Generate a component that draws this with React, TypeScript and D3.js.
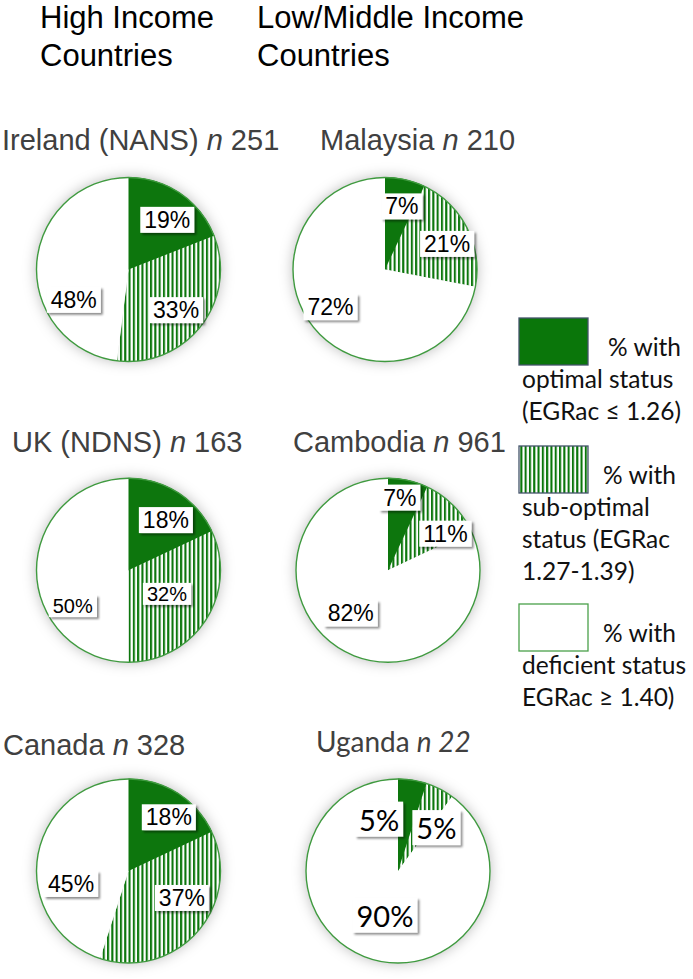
import { useEffect, useRef } from 'react';
import * as d3 from 'd3';

// Riboflavin status (EGRac) by country, % of sample in each band
const countries = ['Ireland (NANS)', 'Malaysia', 'UK (NDNS)', 'Cambodia', 'Canada', 'Uganda'];
const sampleSizes = ['251', '210', '163', '961', '328', '22'];
const optimalPct = [19, 7, 18, 7, 18, 5];
const subOptimalPct = [33, 21, 32, 11, 37, 5];
const deficientPct = [48, 72, 50, 82, 45, 90];

const groupHeadings = [
  ['High Income', 'Countries'],
  ['Low/Middle Income', 'Countries'],
];

const legendLabels = [
  ['% with', 'optimal status', '(EGRac ≤ 1.26)'],
  ['% with', 'sub-optimal', 'status (EGRac', '1.27-1.39)'],
  ['% with', 'deficient status', 'EGRac ≥ 1.40)'],
];

// where each slice label sits: [angle in degrees from 12 o'clock, fraction of radius]
const labelPlacement = [
  [[38, 0.685], [130.5, 0.68], [241, 0.68]],
  [[15, 0.71], [67.6, 0.73], [235.4, 0.72]],
  [[36.7, 0.68], [121.6, 0.49], [237.3, 0.72]],
  [[9.2, 0.8], [57.5, 0.74], [220.8, 0.62]],
  [[36.9, 0.73], [116.8, 0.65], [257.3, 0.64]],
  [[340, 0.6], [41.5, 0.63], [196.5, 0.5]],
];
const labelFontSize = [
  [23, 23, 23],
  [23, 23, 23],
  [23, 20, 20],
  [23, 23, 23],
  [23, 23, 23],
  [29, 29, 29],
];
const titlePos = [
  [2, 150],
  [320, 150],
  [12, 452],
  [293, 452],
  [3, 755],
  [316, 752],
];
const pieNudge = [0, -3, 0, 0, 0, 10];

const W = 693;
const H = 979;
const R = 92;
const GREEN = '#0a760a';
const EDGE = '#3f9a3f';
const ARIAL = 'Liberation Sans, Arial, sans-serif';
const CALIBRI = 'Lato, Open Sans, sans-serif';

export default function App() {
  const ref = useRef<SVGSVGElement>(null);

  useEffect(() => {
    const svg = d3.select(ref.current);
    svg.selectAll('*').remove();

    const defs = svg.append('defs');
    const hatch = defs
      .append('pattern')
      .attr('id', 'hatch')
      .attr('patternUnits', 'userSpaceOnUse')
      .attr('width', 4.3)
      .attr('height', 10);
    hatch.append('rect').attr('width', 4.3).attr('height', 10).attr('fill', '#fff');
    hatch.append('rect').attr('width', 2.1).attr('height', 10).attr('fill', GREEN);

    const halo = defs.append('filter').attr('id', 'halo').attr('x', '-25%').attr('y', '-25%').attr('width', '150%').attr('height', '150%');
    halo.append('feGaussianBlur').attr('in', 'SourceAlpha').attr('stdDeviation', 7).attr('result', 'b');
    halo.append('feFlood').attr('flood-color', '#000').attr('flood-opacity', 0.28);
    halo.append('feComposite').attr('in2', 'b').attr('operator', 'in').attr('result', 's');
    const hm = halo.append('feMerge');
    hm.append('feMergeNode').attr('in', 's');
    hm.append('feMergeNode').attr('in', 'SourceGraphic');

    const shadow = defs.append('filter').attr('id', 'boxShadow').attr('x', '-30%').attr('y', '-30%').attr('width', '160%').attr('height', '160%');
    shadow
      .append('feDropShadow')
      .attr('dx', 2)
      .attr('dy', 2)
      .attr('stdDeviation', 1.3)
      .attr('flood-color', '#000')
      .attr('flood-opacity', 0.45);

    // group headings
    groupHeadings.forEach((lines, i) => {
      const t = svg
        .append('text')
        .attr('x', i === 0 ? 40 : 257)
        .attr('font-family', ARIAL)
        .attr('font-size', 31)
        .attr('fill', '#000');
      lines.forEach((l, j) =>
        t.append('tspan').attr('x', i === 0 ? 40 : 257).attr('y', 28 + j * 38).text(l)
      );
    });

    const xCol = d3.scaleOrdinal<number, number>().domain([0, 1]).range([128.5, 388]);
    const yRow = d3.scaleLinear().domain([0, 2]).range([269.5, 871]);

    const pie = d3
      .pie<{ key: string; value: number }>()
      .value((d) => d.value)
      .sort(null);
    const arc = d3.arc<d3.PieArcDatum<{ key: string; value: number }>>().innerRadius(0).outerRadius(R);
    const fills: Record<string, string> = {
      optimal: GREEN,
      suboptimal: 'url(#hatch)',
      deficient: '#fff',
    };

    countries.forEach((name, i) => {
      const cx = xCol(i % 2) + pieNudge[i];
      const cy = yRow(Math.floor(i / 2));
      const isUganda = name === 'Uganda';

      // title
      const [tx, ty] = titlePos[i];
      const title = svg
        .append('text')
        .attr('x', tx)
        .attr('y', ty)
        .attr('font-family', isUganda ? CALIBRI : ARIAL)
        .attr('font-size', isUganda ? 28 : 29)
        .attr('fill', '#404040');
      title.append('tspan').text(name + ' ');
      title.append('tspan').attr('font-style', 'italic').text('n');
      title
        .append('tspan')
        .attr('font-style', isUganda ? 'italic' : 'normal')
        .text(' ' + sampleSizes[i]);

      const data = [
        { key: 'optimal', value: optimalPct[i] },
        { key: 'suboptimal', value: subOptimalPct[i] },
        { key: 'deficient', value: deficientPct[i] },
      ];

      const g = svg.append('g').attr('transform', `translate(${cx},${cy})`);
      const slices = g.append('g').attr('filter', 'url(#halo)');
      slices
        .selectAll('path')
        .data(pie(data))
        .join('path')
        .attr('d', arc)
        .attr('fill', (d) => fills[d.data.key])
        .attr('stroke', (d) => (d.data.key === 'optimal' ? GREEN : 'none'));
      g.append('circle').attr('r', R).attr('fill', 'none').attr('stroke', EDGE).attr('stroke-width', 1.4);

      // slice labels in white boxes
      data.forEach((d, j) => {
        const [deg, k] = labelPlacement[i][j];
        const a = (deg * Math.PI) / 180;
        const lx = Math.sin(a) * R * k;
        const ly = -Math.cos(a) * R * k;
        const lg = g.append('g').attr('transform', `translate(${lx},${ly})`);
        const rect = lg.append('rect').attr('fill', '#fff').attr('filter', 'url(#boxShadow)');
        const txt = lg
          .append('text')
          .attr('text-anchor', 'middle')
          .attr('dominant-baseline', 'central')
          .attr('font-family', isUganda ? CALIBRI : ARIAL)
          .attr('font-size', labelFontSize[i][j])
          .attr('fill', '#000')
          .text(`${d.value}%`);
        const bb = (txt.node() as SVGTextElement).getBBox();
        rect
          .attr('x', bb.x - 4)
          .attr('y', bb.y)
          .attr('width', bb.width + 8)
          .attr('height', bb.height);
      });
    });

    // legend
    const legendTops = [318, 446, 604];
    const legendFills = [GREEN, 'url(#hatch)', '#fff'];
    const legendStrokes = ['#44546a', '#44546a', '#4aa04a'];
    const legendFirstX = [608, 603, 603];
    legendLabels.forEach((lines, i) => {
      const top = legendTops[i];
      svg
        .append('rect')
        .attr('x', 519)
        .attr('y', top)
        .attr('width', 69)
        .attr('height', 47)
        .attr('fill', legendFills[i])
        .attr('stroke', legendStrokes[i])
        .attr('stroke-width', 1.3);
      lines.forEach((l, j) => {
        svg
          .append('text')
          .attr('x', j === 0 ? legendFirstX[i] : 522)
          .attr('y', top + 38 + j * 32)
          .attr('font-family', CALIBRI)
          .attr('font-size', 24.5)
          .attr('fill', '#111')
          .text(l);
      });
    });
  }, []);

  return (
    <svg
      ref={ref}
      width={W}
      height={H}
      style={{ position: 'absolute', left: 0, top: 0, background: '#fff' }}
    />
  );
}
